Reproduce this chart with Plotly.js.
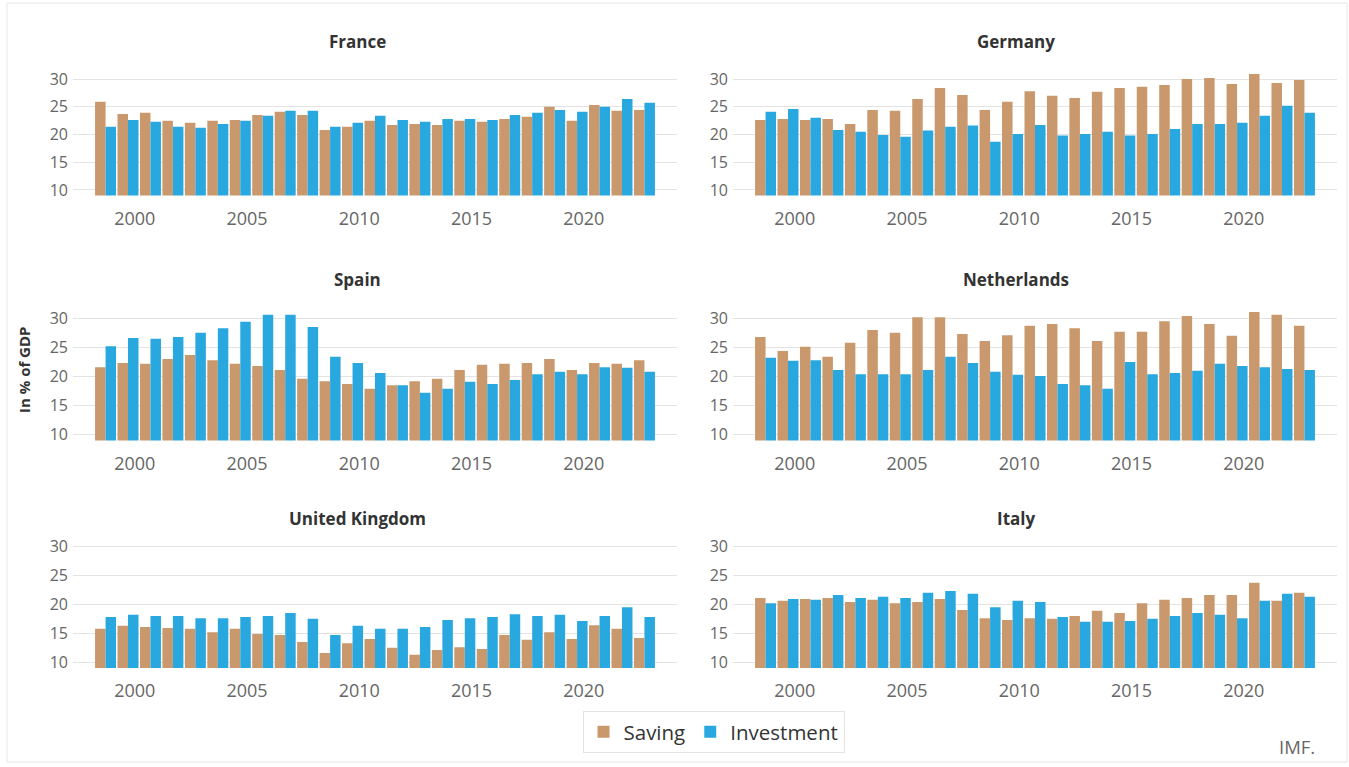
<!DOCTYPE html>
<html>
<head>
<meta charset="utf-8">
<script src="https://cdn.plot.ly/plotly-3.0.1.min.js"></script>
<style>html,body{margin:0;padding:0;background:#fff;}#chart{width:1349px;height:767px;}</style>
</head>
<body>
<div id="chart"></div>
<script>
const years = [1999,2000,2001,2002,2003,2004,2005,2006,2007,2008,2009,2010,2011,2012,2013,2014,2015,2016,2017,2018,2019,2020,2021,2022,2023];
const countries = ["France","Germany","Spain","Netherlands","United Kingdom","Italy"];
const tickYears = [2000,2005,2010,2015,2020];
const yTicks = [10,15,20,25,30];

const franceSaving = [25.9,23.7,23.9,22.5,22.1,22.5,22.6,23.5,24.1,23.5,20.8,21.4,22.5,21.7,21.9,21.7,22.5,22.3,22.8,23.2,25.0,22.5,25.3,24.3,24.4];
const franceInvestment = [21.4,22.6,22.3,21.4,21.2,21.9,22.5,23.4,24.3,24.3,21.4,22.1,23.4,22.6,22.3,22.8,22.8,22.6,23.5,23.9,24.4,24.1,25.0,26.4,25.7];
const germanySaving = [22.6,22.8,22.6,22.8,21.9,24.4,24.3,26.4,28.4,27.1,24.4,25.9,27.8,27.0,26.6,27.7,28.4,28.6,28.9,30.0,30.2,29.1,30.9,29.3,29.8];
const germanyInvestment = [24.1,24.6,23.0,20.8,20.5,19.9,19.6,20.7,21.4,21.6,18.7,20.1,21.7,19.8,20.1,20.5,19.8,20.1,21.0,21.9,21.9,22.1,23.4,25.2,23.9];
const spainSaving = [21.6,22.3,22.2,23.0,23.7,22.8,22.2,21.8,21.1,19.6,19.2,18.7,17.9,18.5,19.2,19.6,21.1,22.0,22.2,22.3,23.0,21.1,22.3,22.2,22.8];
const spainInvestment = [25.2,26.6,26.5,26.8,27.5,28.3,29.4,30.6,30.6,28.5,23.4,22.3,20.6,18.5,17.2,17.9,19.1,18.7,19.4,20.4,20.8,20.4,21.6,21.5,20.8];
const netherlandsSaving = [26.8,24.4,25.1,23.4,25.8,28.0,27.5,30.2,30.2,27.3,26.1,27.1,28.7,29.0,28.3,26.1,27.7,27.7,29.5,30.4,29.0,27.0,31.1,30.6,28.7];
const netherlandsInvestment = [23.2,22.7,22.8,21.1,20.4,20.4,20.4,21.1,23.4,22.3,20.8,20.3,20.1,18.7,18.5,17.9,22.5,20.4,20.6,21.0,22.2,21.8,21.6,21.3,21.1];
const ukSaving = [15.8,16.3,16.1,15.9,15.8,15.2,15.8,14.9,14.7,13.5,11.6,13.3,14.0,12.5,11.3,12.1,12.6,12.3,14.7,13.9,15.2,14.0,16.4,15.8,14.2];
const ukInvestment = [17.8,18.2,18.0,18.0,17.6,17.6,17.8,18.0,18.5,17.5,14.7,16.3,15.8,15.8,16.1,17.3,17.6,17.8,18.3,18.0,18.2,17.1,18.0,19.5,17.8];
const italySaving = [21.1,20.6,20.9,21.1,20.4,20.8,20.2,20.4,20.9,19.0,17.6,17.3,17.6,17.5,18.0,18.9,18.5,20.2,20.8,21.1,21.6,21.6,23.7,20.6,22.0];
const italyInvestment = [20.2,20.9,20.8,21.6,21.1,21.3,21.1,22.0,22.3,21.8,19.5,20.6,20.4,17.8,17.0,17.0,17.1,17.5,18.0,18.5,18.2,17.6,20.6,21.8,21.3];

const savingSeries = [franceSaving,germanySaving,spainSaving,netherlandsSaving,ukSaving,italySaving];
const investmentSeries = [franceInvestment,germanyInvestment,spainInvestment,netherlandsInvestment,ukInvestment,italyInvestment];

const W = 1349, H = 767;
const SAV = '#c9986c', INV = '#29a8e0';
const fx = p => p / W;
const fy = p => 1 - p / H;

const colPx = [[73,677],[733,1337]];
const rowPx = [{p30:79,p10:190},{p30:318.3,p10:434.7},{p30:546.3,p10:662.3}];
const yLo = 9, yHi = 31.3;

const traces = [];
const layout = {
  width: W, height: H,
  margin: {l:0,r:0,t:0,b:0},
  paper_bgcolor: '#fff', plot_bgcolor: '#fff',
  barmode: 'group', bargap: 0.065, bargroupgap: 0,
  font: {family: '"Open Sans", "Noto Sans", sans-serif', color: '#666'},
  showlegend: true,
  legend: {orientation: 'h', x: fx(713.5), xanchor: 'center', y: fy(711), yanchor: 'top',
           bordercolor: '#e3e3e3', borderwidth: 1, bgcolor: '#fff',
           font: {size: 20.5, color: '#333'}, itemclick: false, traceorder: 'normal'},
  annotations: [],
  shapes: [{type:'rect', xref:'paper', yref:'paper', x0: fx(7), x1: fx(1347), y0: fy(762), y1: fy(3),
            line:{color:'#e6e6e6', width:1}, fillcolor:'rgba(0,0,0,0)', layer:'below'}]
};

countries.forEach((name, i) => {
  const col = i % 2, row = Math.floor(i / 2);
  const ax = i === 0 ? '' : String(i + 1);
  const r = rowPx[row];
  const unit = (r.p10 - r.p30) / 20;
  const pix = v => r.p30 + (30 - v) * unit;
  layout['xaxis' + ax] = {
    domain: [fx(colPx[col][0]), fx(colPx[col][1])],
    anchor: 'y' + ax, range: [1997.55, 2024.45],
    tickvals: tickYears.map(y => y + 0.3), ticktext: tickYears.map(String),
    showgrid: false, zeroline: false, showline: false, ticks: '',
    tickfont: {size: 18, color: '#666'}, ticklabelstandoff: 10, fixedrange: true
  };
  layout['yaxis' + ax] = {
    domain: [fy(pix(yLo)), fy(pix(yHi))],
    anchor: 'x' + ax, range: [yLo, yHi],
    tickvals: yTicks, showgrid: true, gridcolor: '#e3e3e3', gridwidth: 1,
    zeroline: false, showline: false, ticks: '',
    tickfont: {size: 16, color: '#666'}, ticklabelstandoff: 4, fixedrange: true
  };
  traces.push({type:'bar', name:'Saving', x: years, y: savingSeries[i], xaxis:'x'+ax, yaxis:'y'+ax,
               marker:{color:SAV, line:{width:0}}, legendgroup:'s', showlegend: i === 0, hoverinfo:'x+y+name'});
  traces.push({type:'bar', name:'Investment', x: years, y: investmentSeries[i], xaxis:'x'+ax, yaxis:'y'+ax,
               marker:{color:INV, line:{width:0}}, legendgroup:'i', showlegend: i === 0, hoverinfo:'x+y+name'});
  const titleX = col === 0 ? 357 : 1016;
  const titleY = [41, 279, 518][row];
  layout.annotations.push({text: '<b>' + name + '</b>', xref:'paper', yref:'paper', x: fx(titleX), y: fy(titleY),
    xanchor:'center', yanchor:'middle', showarrow:false, font:{size:17, color:'#333'}});
});

layout.annotations.push({text:'<b>In % of GDP</b>', xref:'paper', yref:'paper', x: fx(24), y: fy(370),
  xanchor:'center', yanchor:'middle', textangle:-90, showarrow:false, font:{size:15, color:'#333'}});
layout.annotations.push({text:'IMF.', xref:'paper', yref:'paper', x: fx(1297), y: fy(746),
  xanchor:'center', yanchor:'middle', showarrow:false, font:{size:18.5, color:'#666'}});

Plotly.newPlot('chart', traces, layout, {displayModeBar:false, staticPlot:true});
</script>
</body>
</html>
